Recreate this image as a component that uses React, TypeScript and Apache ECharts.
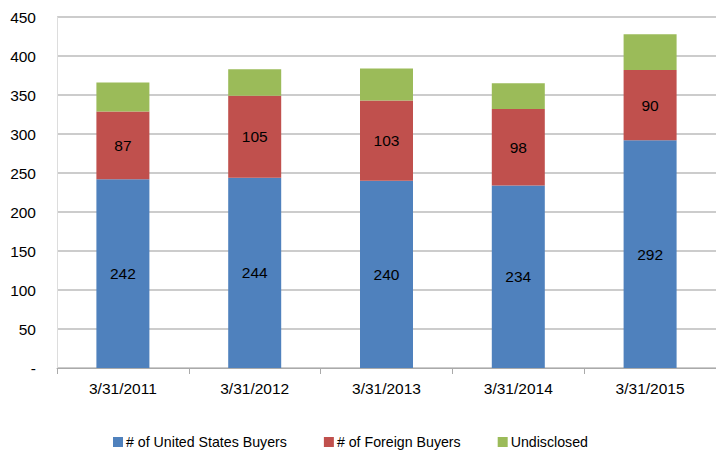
import React, { useEffect, useRef } from "react";
import * as echarts from "echarts";

const categories = ["3/31/2011", "3/31/2012", "3/31/2013", "3/31/2014", "3/31/2015"];
const usBuyers = [242, 244, 240, 234, 292];
const foreignBuyers = [87, 105, 103, 98, 90];
const undisclosed = [37, 34, 41, 33, 46];
const seriesNames = ["# of United States Buyers", "# of Foreign Buyers", "Undisclosed"];

export default function App() {
  const ref = useRef<HTMLDivElement>(null);
  useEffect(() => {
    const chart = echarts.init(ref.current!, null, { renderer: "svg" });
    const font = "'Liberation Sans', Arial, sans-serif";
    const labelStyle = {
      show: true,
      position: "inside",
      color: "#000",
      fontSize: 15.5,
      fontFamily: font,
    };
    chart.setOption({
      animation: false,
      textStyle: { fontFamily: font },
      grid: { left: 57, right: -6, top: 17, bottom: 90 },
      legend: {
        bottom: 4,
        left: 108,
        itemWidth: 10,
        itemHeight: 10,
        itemGap: 37,
        icon: "rect",
        textStyle: { fontSize: 14.2, color: "#000", fontFamily: font, padding: [0, 0, 0, -2] },
        data: seriesNames,
      },
      xAxis: {
        type: "category",
        data: categories,
        axisLine: { lineStyle: { color: "#aaa" } },
        axisTick: { show: true, length: 6, lineStyle: { color: "#aaa" } },
        axisLabel: { color: "#000", fontSize: 15.5, margin: 12, fontFamily: font },
      },
      yAxis: {
        type: "value",
        min: 0,
        max: 450,
        interval: 50,
        axisLine: { show: true, lineStyle: { color: "#ddd" } },
        axisTick: { show: false },
        splitLine: { lineStyle: { color: "#bbb", width: 1.5 } },
        axisLabel: {
          color: "#000",
          fontSize: 15.5,
          margin: 21,
          fontFamily: font,
          formatter: (v: number) => (v === 0 ? "-" : String(v)),
        },
      },
      series: [
        {
          name: seriesNames[0],
          type: "bar",
          stack: "total",
          data: usBuyers,
          barWidth: 53,
          itemStyle: { color: "#4F81BD" },
          label: labelStyle,
        },
        {
          name: seriesNames[1],
          type: "bar",
          stack: "total",
          data: foreignBuyers,
          barWidth: 53,
          itemStyle: { color: "#C0504D" },
          label: labelStyle,
        },
        {
          name: seriesNames[2],
          type: "bar",
          stack: "total",
          data: undisclosed,
          barWidth: 53,
          itemStyle: { color: "#9BBB59" },
        },
      ],
    });
    return () => chart.dispose();
  }, []);
  return (
    <div
      ref={ref}
      style={{ position: "absolute", left: 0, top: 0, width: 716, height: 458 }}
    />
  );
}
